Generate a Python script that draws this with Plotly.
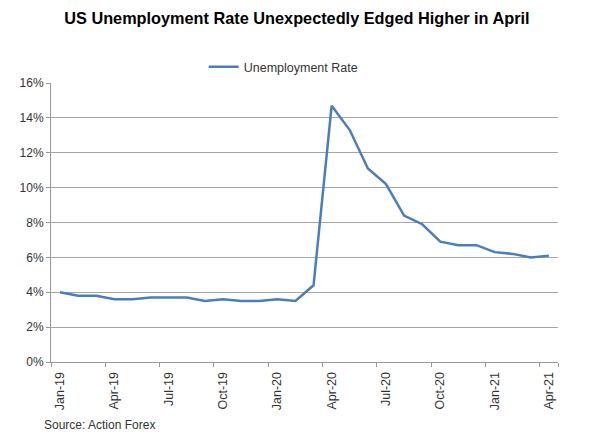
import plotly.graph_objects as go

months = ["Jan-19", "Feb-19", "Mar-19", "Apr-19", "May-19", "Jun-19", "Jul-19", "Aug-19",
          "Sep-19", "Oct-19", "Nov-19", "Dec-19", "Jan-20", "Feb-20", "Mar-20", "Apr-20",
          "May-20", "Jun-20", "Jul-20", "Aug-20", "Sep-20", "Oct-20", "Nov-20", "Dec-20",
          "Jan-21", "Feb-21", "Mar-21", "Apr-21"]
unemployment = [4.0, 3.8, 3.8, 3.6, 3.6, 3.7, 3.7, 3.7, 3.5, 3.6, 3.5, 3.5, 3.6, 3.5, 4.4, 14.7,
                13.3, 11.1, 10.2, 8.4, 7.9, 6.9, 6.7, 6.7, 6.3, 6.2, 6.0, 6.1]
tick_labels = months[::3]
y_ticks = [0, 2, 4, 6, 8, 10, 12, 14, 16]

font = "Liberation Sans, Arial, sans-serif"

fig = go.Figure()
fig.add_trace(go.Scatter(x=months, y=unemployment, mode="lines", name="Unemployment Rate",
                         line=dict(color="#4A7EBB", width=2.5)))

fig.update_layout(
    width=592, height=431,
    paper_bgcolor="white", plot_bgcolor="white",
    margin=dict(l=38, r=42, t=75, b=77),
    font=dict(family=font, size=12, color="#333333"),
    title=dict(text="<b>US Unemployment Rate Unexpectedly Edged Higher in April</b>",
               x=0.488, xanchor="center", y=0.975, yanchor="middle",
               font=dict(family=font, size=16.3, color="black")),
    showlegend=True,
    legend=dict(orientation="h", x=0.458, xanchor="center", y=1.057, yanchor="middle",
                font=dict(family=font, size=12.5, color="#333333"), itemwidth=30),
    annotations=[dict(text="Source: Action Forex", xref="paper", yref="paper",
                      x=-0.018, y=-0.226, xanchor="left", yanchor="middle", showarrow=False,
                      font=dict(family=font, size=12, color="#333333"))],
)

fig.update_xaxes(type="category", categoryorder="array", categoryarray=months,
                 tickmode="array", tickvals=tick_labels, ticktext=tick_labels,
                 tickson="boundaries", ticks="outside", ticklen=4, tickcolor="#999999",
                 tickangle=-90, showgrid=False, showline=True, linecolor="#999999",
                 linewidth=1, range=[-0.5, 27.5], ticklabelstandoff=4,
                 tickfont=dict(family=font, size=12.5, color="#333333"))
fig.update_yaxes(range=[0, 16], tickvals=y_ticks, ticktext=[f"{v}%" for v in y_ticks],
                 showgrid=True, gridcolor="#A6A6A6", gridwidth=1, showline=True,
                 linecolor="#999999", ticks="outside", ticklen=4, tickcolor="#999999",
                 zeroline=False, tickfont=dict(family=font, size=12, color="#333333"))

fig.write_html("out.html")
